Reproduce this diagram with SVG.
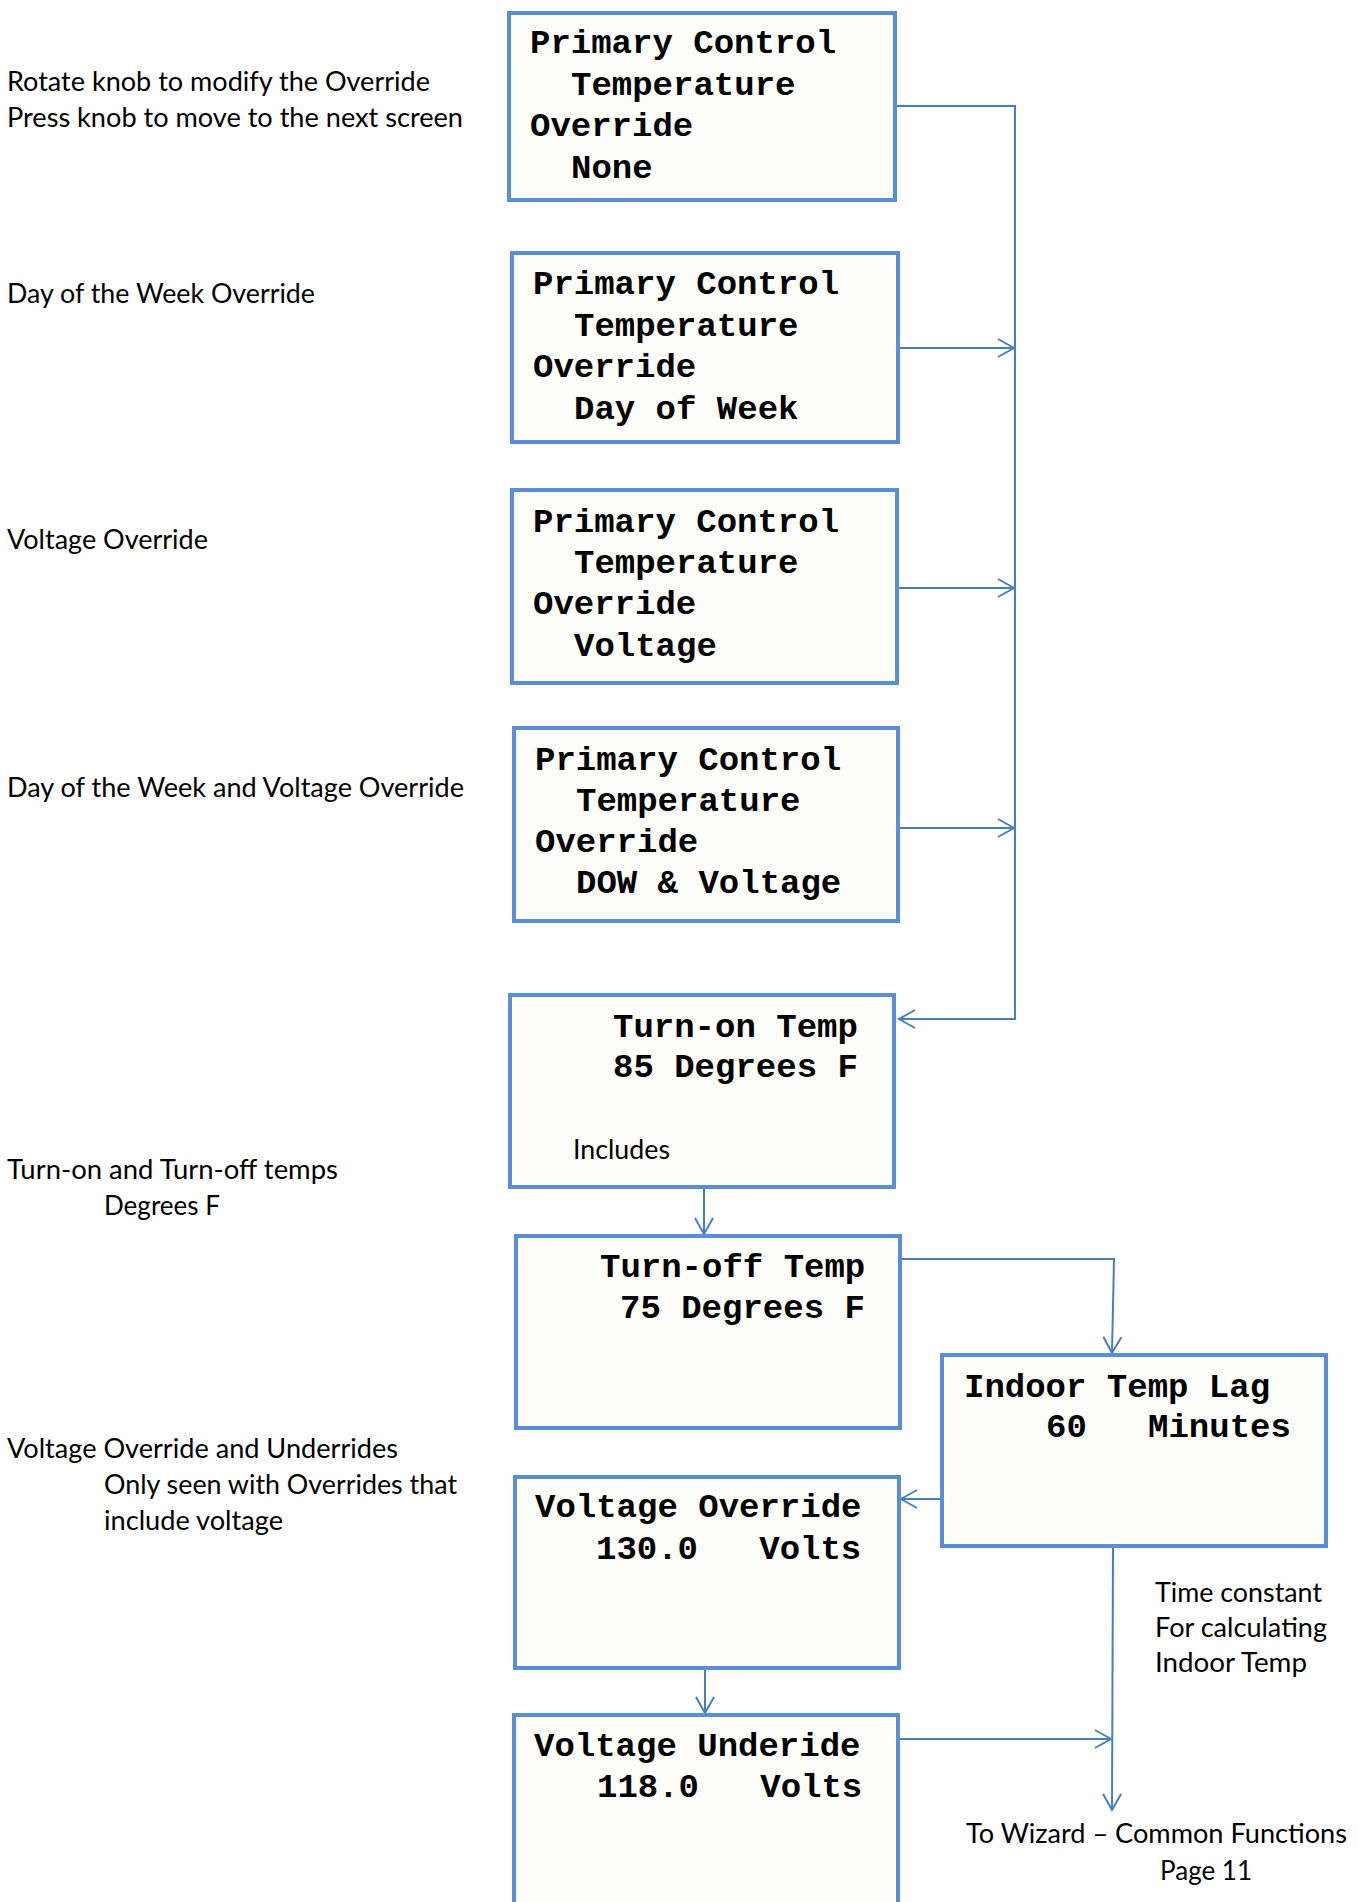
<svg xmlns="http://www.w3.org/2000/svg" width="1359" height="1902" viewBox="0 0 1359 1902">
<style>
.box{fill:#FCFDF8;stroke:#5A8ED6;stroke-width:4}
.lcd{font-family:"Liberation Mono","DejaVu Sans Mono",monospace;font-weight:bold;font-size:34px;fill:#000}
.note{font-family:Lato,"Open Sans",sans-serif;font-size:27px;fill:#000}
.conn{fill:none;stroke:#4A7EBB;stroke-width:2}
</style>
<defs>
<marker id="arr" viewBox="0 0 20 20" markerWidth="20" markerHeight="20" refX="18" refY="10" orient="auto" markerUnits="userSpaceOnUse">
<path d="M2,1 L18,10 L2,19" fill="none" stroke="#4A7EBB" stroke-width="2"/>
</marker>
</defs>
<rect width="1359" height="1902" fill="#FFFFFF"/>

<g id="notes">
<text class="note" x="7" y="91" textLength="423" lengthAdjust="spacingAndGlyphs">Rotate knob to modify the Override</text>
<text class="note" x="7" y="127" textLength="456" lengthAdjust="spacingAndGlyphs">Press knob to move to the next screen</text>
<text class="note" x="7" y="303" textLength="308" lengthAdjust="spacingAndGlyphs">Day of the Week Override</text>
<text class="note" x="7" y="549" textLength="201" lengthAdjust="spacingAndGlyphs">Voltage Override</text>
<text class="note" x="7" y="797" textLength="457" lengthAdjust="spacingAndGlyphs">Day of the Week and Voltage Override</text>
<text class="note" x="7" y="1179" textLength="331" lengthAdjust="spacingAndGlyphs">Turn-on and Turn-off temps</text>
<text class="note" x="104" y="1215" textLength="116" lengthAdjust="spacingAndGlyphs">Degrees F</text>
<text class="note" x="7" y="1458" textLength="391" lengthAdjust="spacingAndGlyphs">Voltage Override and Underrides</text>
<text class="note" x="104" y="1494" textLength="353" lengthAdjust="spacingAndGlyphs">Only seen with Overrides that</text>
<text class="note" x="104" y="1530" textLength="179" lengthAdjust="spacingAndGlyphs">include voltage</text>
<text class="note" x="1155" y="1602" textLength="167" lengthAdjust="spacingAndGlyphs">Time constant</text>
<text class="note" x="1155" y="1637" textLength="172" lengthAdjust="spacingAndGlyphs">For calculating</text>
<text class="note" x="1155" y="1672" textLength="152" lengthAdjust="spacingAndGlyphs">Indoor Temp</text>
<text class="note" x="966" y="1843" textLength="381" lengthAdjust="spacingAndGlyphs">To Wizard – Common Functions</text>
<text class="note" x="1160" y="1880" textLength="92" lengthAdjust="spacingAndGlyphs">Page 11</text>
</g>

<g id="connectors">
<path class="conn" d="M895,106 H1015 V1019 H899" marker-end="url(#arr)"/>
<path class="conn" d="M898,348 H1014" marker-end="url(#arr)"/>
<path class="conn" d="M897,588 H1014" marker-end="url(#arr)"/>
<path class="conn" d="M898,828 H1014" marker-end="url(#arr)"/>
<path class="conn" d="M704,1189 V1234" marker-end="url(#arr)"/>
<path class="conn" d="M900,1259 H1114 L1112,1353" marker-end="url(#arr)"/>
<path class="conn" d="M942,1499 H901" marker-end="url(#arr)"/>
<path class="conn" d="M705,1670 V1713" marker-end="url(#arr)"/>
<path class="conn" d="M898,1739 H1111" marker-end="url(#arr)"/>
<path class="conn" d="M1113,1548 L1112,1810" marker-end="url(#arr)"/>
</g>

<g id="box1">
<rect class="box" x="509" y="13" width="386" height="187"/>
<text class="lcd" x="530" y="53">Primary Control</text>
<text class="lcd" x="571" y="95">Temperature</text>
<text class="lcd" x="530" y="136">Override</text>
<text class="lcd" x="571" y="178">None</text>
</g>

<g id="box2">
<rect class="box" x="512" y="253" width="386" height="189"/>
<text class="lcd" x="533" y="294">Primary Control</text>
<text class="lcd" x="574" y="336">Temperature</text>
<text class="lcd" x="533" y="377">Override</text>
<text class="lcd" x="574" y="419">Day of Week</text>
</g>

<g id="box3">
<rect class="box" x="512" y="490" width="385" height="193"/>
<text class="lcd" x="533" y="532">Primary Control</text>
<text class="lcd" x="574" y="573">Temperature</text>
<text class="lcd" x="533" y="614">Override</text>
<text class="lcd" x="574" y="656">Voltage</text>
</g>

<g id="box4">
<rect class="box" x="514" y="728" width="384" height="193"/>
<text class="lcd" x="535" y="770">Primary Control</text>
<text class="lcd" x="576" y="811">Temperature</text>
<text class="lcd" x="535" y="852">Override</text>
<text class="lcd" x="576" y="893">DOW &amp; Voltage</text>
</g>

<g id="box5">
<rect class="box" x="510" y="995" width="384" height="192"/>
<text class="lcd" x="613" y="1037">Turn-on Temp</text>
<text class="lcd" x="613" y="1077">85 Degrees F</text>
<text class="note" x="573" y="1159" textLength="97" lengthAdjust="spacingAndGlyphs">Includes</text>
</g>

<g id="box6">
<rect class="box" x="516" y="1236" width="384" height="192"/>
<text class="lcd" x="600" y="1277">Turn-off Temp</text>
<text class="lcd" x="620" y="1318">75 Degrees F</text>
</g>

<g id="box7">
<rect class="box" x="942" y="1355" width="384" height="191"/>
<text class="lcd" x="964" y="1397">Indoor Temp Lag</text>
<text class="lcd" x="1046" y="1437" xml:space="preserve">60   Minutes</text>
</g>

<g id="box8">
<rect class="box" x="515" y="1477" width="384" height="191"/>
<text class="lcd" x="535" y="1517">Voltage Override</text>
<text class="lcd" x="596" y="1559" xml:space="preserve">130.0   Volts</text>
</g>

<g id="box9">
<rect class="box" x="514" y="1715" width="384" height="260"/>
<text class="lcd" x="534" y="1756">Voltage Underide</text>
<text class="lcd" x="597" y="1797" xml:space="preserve">118.0   Volts</text>
</g>
</svg>
